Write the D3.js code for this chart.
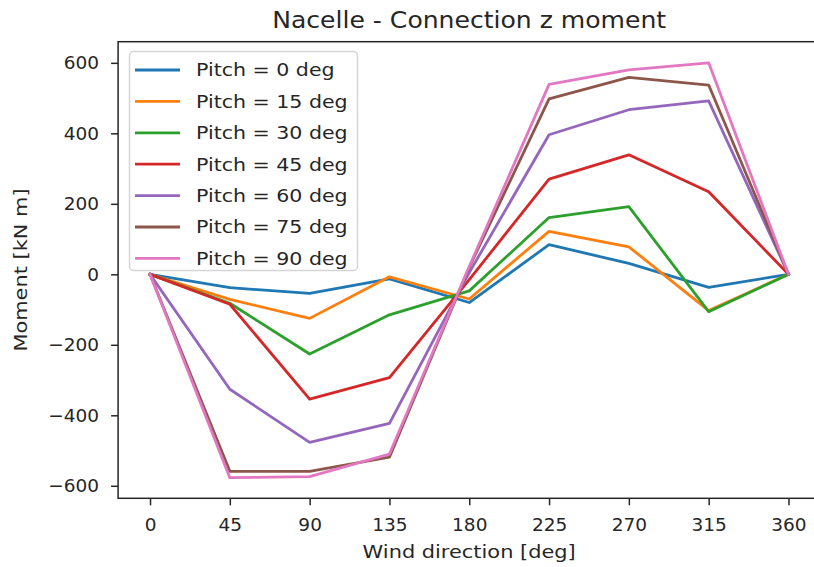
<!DOCTYPE html>
<html>
<head>
<meta charset="utf-8">
<script src="https://cdn.jsdelivr.net/npm/d3@7/dist/d3.min.js"></script>
<style>
  html, body { margin: 0; padding: 0; background: #fff; }
  svg { display: block; font-family: "DejaVu Sans", sans-serif; }
</style>
</head>
<body>
<svg id="chart" width="814" height="567"></svg>
<script>
// Wind directions (deg)
const directions = [0, 45, 90, 135, 180, 225, 270, 315, 360];

// Connection z moment [kN m] per blade pitch
const pitch0  = [0, -38, -54, -13, -80, 84, 31, -37, 0];
const pitch15 = [0, -71, -125, -7, -70, 122, 78, -103, 0];
const pitch30 = [0, -82, -226, -115, -47, 161, 192, -106, 0];
const pitch45 = [0, -85, -354, -293, -15, 270, 339, 234, 0];
const pitch60 = [0, -326, -477, -423, 5, 396, 467, 492, 0];
const pitch75 = [0, -559, -559, -519, 20, 498, 559, 537, 0];
const pitch90 = [0, -577, -574, -510, 22, 539, 580, 600, 0];

const seriesLabels = ["Pitch = 0 deg", "Pitch = 15 deg", "Pitch = 30 deg", "Pitch = 45 deg",
                      "Pitch = 60 deg", "Pitch = 75 deg", "Pitch = 90 deg"];
const seriesValues = [pitch0, pitch15, pitch30, pitch45, pitch60, pitch75, pitch90];
const seriesColors = ["#1f77b4", "#ff7f0e", "#2ca02c", "#d62728", "#9467bd", "#8c564b", "#e377c2"];

const xTicks = [0, 45, 90, 135, 180, 225, 270, 315, 360];
const yTicks = [-600, -400, -200, 0, 200, 400, 600];

(function draw() {
  const svg = d3.select("#chart");
  const textColor = "#262626";
  const fs = 18.5;

  // widen a text element horizontally by a factor (hinted-text look)
  function widen(sel, factor) {
    sel.each(function () {
      const len = this.getComputedTextLength();
      d3.select(this).attr("textLength", len * factor).attr("lengthAdjust", "spacingAndGlyphs");
    });
  }

  // plot area
  const plotL = 118.1, plotR = 820.4, plotT = 41.7, plotB = 498.3;

  const x = d3.scaleLinear().domain([-18, 378]).range([plotL, plotR]);
  const y = d3.scaleLinear().domain([-635.5, 660]).range([plotB, plotT]);

  // lines
  const line = d3.line().x((d, i) => x(directions[i])).y(d => y(d));
  const lines = svg.append("g");
  seriesValues.forEach((vals, k) => {
    lines.append("path")
      .datum(vals)
      .attr("d", line)
      .attr("fill", "none")
      .attr("stroke", seriesColors[k])
      .attr("stroke-width", 2.8)
      .attr("stroke-linejoin", "round")
      .attr("stroke-linecap", "square");
  });

  // axes
  const xAxis = svg.append("g")
    .attr("transform", `translate(0,${plotB})`)
    .call(d3.axisBottom(x).tickValues(xTicks).tickFormat(d3.format("d")).tickSize(7).tickPadding(13));
  const yAxis = svg.append("g")
    .attr("transform", `translate(${plotL},0)`)
    .call(d3.axisLeft(y).tickValues(yTicks)
          .tickFormat(d => d < 0 ? "\u2212" + Math.abs(d) : String(d))
          .tickSize(7).tickPadding(12));

  [xAxis, yAxis].forEach(a => {
    a.select(".domain").remove();
    a.selectAll(".tick line").attr("stroke", textColor).attr("stroke-width", 1.5);
    a.selectAll(".tick text").attr("fill", textColor).style("font-size", fs + "px")
      .style("font-family", "'DejaVu Sans', sans-serif");
  });

  // frame (spines)
  svg.append("rect")
    .attr("x", plotL).attr("y", plotT)
    .attr("width", plotR - plotL).attr("height", plotB - plotT)
    .attr("fill", "none").attr("stroke", textColor).attr("stroke-width", 1.5);

  // title & axis labels
  svg.append("text")
    .attr("x", 469.2).attr("y", 28)
    .attr("text-anchor", "middle")
    .attr("fill", textColor)
    .style("font-size", "22.2px")
    .text("Nacelle - Connection z moment")
    .call(widen, 1.13);

  svg.append("text")
    .attr("x", 469.2).attr("y", 558)
    .attr("text-anchor", "middle")
    .attr("fill", textColor)
    .style("font-size", fs + "px")
    .text("Wind direction [deg]")
    .call(widen, 1.13);

  svg.append("text")
    .attr("transform", `translate(27,${(plotT + plotB) / 2}) rotate(-90)`)
    .attr("text-anchor", "middle")
    .attr("fill", textColor)
    .style("font-size", fs + "px")
    .text("Moment [kN m]")
    .call(widen, 1.13);

  // legend
  const legend = svg.append("g");
  legend.append("rect")
    .attr("x", 129.5).attr("y", 51.5)
    .attr("width", 228).attr("height", 219)
    .attr("rx", 4).attr("ry", 4)
    .attr("fill", "#fff").attr("fill-opacity", 0.8)
    .attr("stroke", "#d5d5d5").attr("stroke-width", 1.5);

  const rowY0 = 70, rowStep = 31.4;
  seriesLabels.forEach((lab, k) => {
    const ry = rowY0 + k * rowStep;
    legend.append("line")
      .attr("x1", 135).attr("x2", 180)
      .attr("y1", ry).attr("y2", ry)
      .attr("stroke", seriesColors[k]).attr("stroke-width", 2.8);
    legend.append("text")
      .attr("x", 196).attr("y", ry)
      .attr("dy", "0.35em")
      .attr("fill", textColor)
      .style("font-size", fs + "px")
      .text(lab)
      .call(widen, 1.11);
  });
})();
</script>
</body>
</html>
